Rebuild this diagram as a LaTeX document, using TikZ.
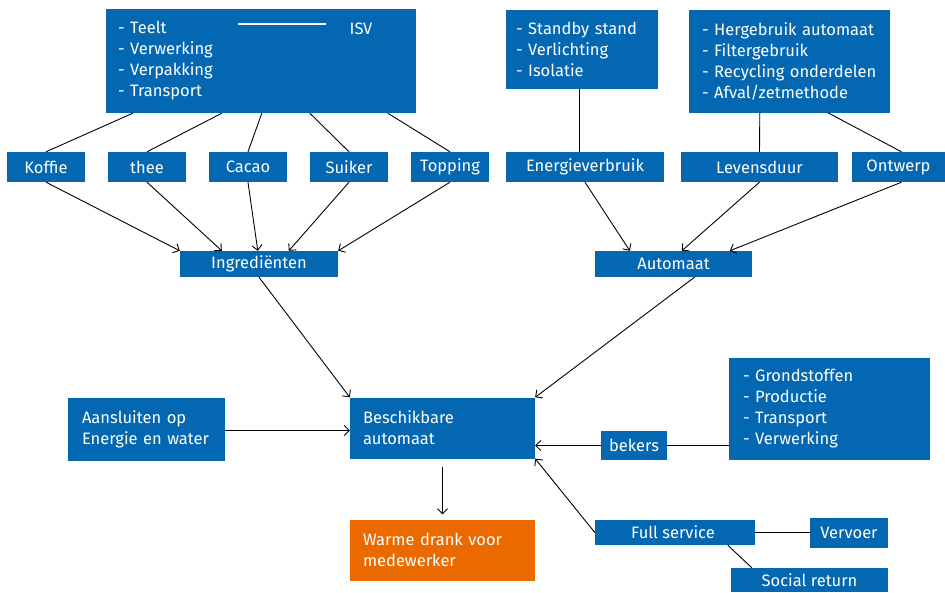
\documentclass[tikz,border=0pt]{standalone}
\usepackage{fontspec}
\setmainfont{Fira Sans}
\usetikzlibrary{arrows.meta}
\definecolor{rblue}{HTML}{0467B2}
\definecolor{rorange}{HTML}{EB6A00}
\begin{document}
\begin{tikzpicture}[x=1pt,y=-1pt,
  box/.style={fill=rblue,text=white,inner sep=0pt,font=\fontsize{16.5}{21}\selectfont,align=center},
  listbox/.style={box,align=left,inner xsep=6pt},
  obox/.style={listbox,fill=rorange},
  conn/.style={draw=black,line width=0.9pt},
  arr/.style={conn,-{Straight Barb[length=5pt,width=10pt]}},
  wline/.style={draw=white,line width=1.2pt}]
\useasboundingbox (0,0) rectangle (945,592);
% top left
\node[listbox,minimum width=310pt,minimum height=104pt,text width=286pt] (isv) at (261,61)
  {- Teelt\\- Verwerking\\- Verpakking\\- Transport};
\node[box,fill=none] (isvl) at (361,29) {ISV};
\coordinate (wla) at (238,24);
\coordinate (wlb) at (326,24);
\draw[wline] (wla) -- (wlb);
\node[box,minimum width=78pt,minimum height=30pt] (koffie) at (46,167) {Koffie};
\node[box,minimum width=78pt,minimum height=30pt] (thee) at (147,167) {thee};
\node[box,minimum width=78pt,minimum height=30pt] (cacao) at (248,167) {Cacao};
\node[box,minimum width=78pt,minimum height=30pt] (suiker) at (349,167) {Suiker};
\node[box,minimum width=78pt,minimum height=30pt] (topping) at (450,167) {Topping};
\node[box,minimum width=158pt,minimum height=26pt] (ingr) at (259,264) {Ingrediënten};
% top right
\node[listbox,minimum width=152pt,minimum height=79pt,text width=132pt] (standby) at (582,49)
  {- Standby stand\\- Verlichting\\- Isolatie};
\node[listbox,minimum width=201pt,minimum height=103pt,text width=175pt] (herge) at (789.5,61)
  {- Hergebruik automaat\\- Filtergebruik\\- Recycling onderdelen\\- Afval/zetmethode};
\node[box,minimum width=158pt,minimum height=30pt] (energie) at (585,167) {Energieverbruik};
\node[box,minimum width=157pt,minimum height=30pt] (levens) at (759.5,167) {Levensduur};
\node[box,minimum width=93pt,minimum height=30pt] (ontwerp) at (898.5,167) {Ontwerp};
\node[box,minimum width=157pt,minimum height=26pt] (automaat) at (673.5,264) {Automaat};
% middle
\node[listbox,minimum width=157pt,minimum height=63pt,text width=129pt] (aansl) at (146.5,429)
  {Aansluiten op\\Energie en water};
\node[listbox,minimum width=185pt,minimum height=61pt,text width=159pt] (besch) at (442.5,428)
  {Beschikbare\\automaat};
\node[listbox,minimum width=201pt,minimum height=102pt,text width=173pt] (grond) at (829.5,408.5)
  {- Grondstoffen\\- Productie\\- Transport\\- Verwerking};
\node[box,minimum width=66pt,minimum height=29pt] (bekers) at (634,445.5) {bekers};
% bottom
\node[obox,minimum width=185pt,minimum height=61pt,text width=159pt] (warme) at (442.5,550)
  {Warme drank voor\\medewerker};
\node[box,minimum width=160pt,minimum height=25pt] (full) at (675,532.5) {Full service\hspace*{4pt}};
\node[box,minimum width=78pt,minimum height=30pt] (vervoer) at (849,533) {Vervoer};
\node[box,minimum width=157pt,minimum height=24pt] (social) at (809.5,580) {Social return};
% connectors top left
\draw[conn] ([xshift=27pt]isv.south west) -- (koffie.north);
\draw[conn] ([xshift=116pt]isv.south west) -- (thee.north);
\draw[conn] ([xshift=156pt]isv.south west) -- (cacao.north);
\draw[conn] ([xshift=204pt]isv.south west) -- (suiker.north);
\draw[conn] ([xshift=282pt]isv.south west) -- (topping.north);
\draw[arr] (koffie.south) -- (ingr.north west);
\draw[arr] (thee.south) -- ([xshift=42pt]ingr.north west);
\draw[arr] (cacao.south) -- ([xshift=78pt]ingr.north west);
\draw[arr] (suiker.south) -- ([xshift=109pt]ingr.north west);
\draw[arr] (topping.south) -- (ingr.north east);
% connectors top right
\draw[conn] ([xshift=-3pt]standby.south) -- ([xshift=-6pt]energie.north);
\draw[conn] ([xshift=71pt]herge.south west) -- (levens.north);
\draw[conn] ([xshift=139pt]herge.south west) -- ([xshift=3pt]ontwerp.north);
\draw[arr] (energie.south) -- ([xshift=35pt]automaat.north west);
\draw[arr] (levens.south) -- ([xshift=87pt]automaat.north west);
\draw[arr] ([xshift=3pt]ontwerp.south) -- ([xshift=135pt]automaat.north west);
% middle
\draw[arr] (ingr.south) -- (besch.north west);
\draw[arr] ([xshift=21pt]automaat.south) -- (besch.north east);
\draw[arr] ([yshift=-1.5pt]aansl.east) -- ([yshift=-1.5pt]aansl.east -| besch.west);
\draw[conn] (grond.west |- bekers.east) -- (bekers.east);
\draw[arr] (bekers.west) -- (bekers.west -| besch.east);
\draw[arr] (full.west) -- (besch.south east);
\draw[conn] (full.east) -- (full.east -| vervoer.west);
\draw[conn] ([xshift=133pt]full.south west) -- ([xshift=21pt]social.north west);
\draw[arr] ([yshift=-8pt]besch.south) -- ([yshift=5pt]warme.north);
\end{tikzpicture}
\end{document}
